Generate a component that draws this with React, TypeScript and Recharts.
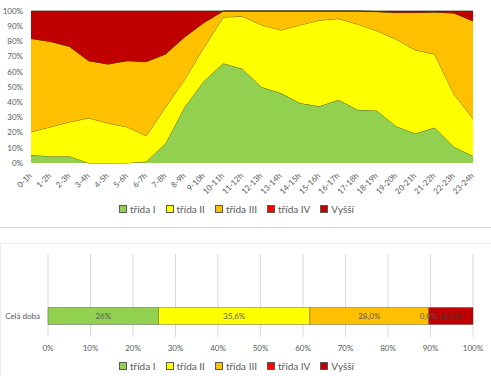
import { AreaChart, Area, BarChart, Bar, XAxis, YAxis, CartesianGrid, Legend, LabelList } from 'recharts';

const hours = [
  '0-1h', '1-2h', '2-3h', '3-4h', '4-5h', '5-6h', '6-7h', '7-8h', '8-9h', '9-10h', '10-11h', '11-12h',
  '12-13h', '13-14h', '14-15h', '15-16h', '16-17h', '17-18h', '18-19h', '19-20h', '20-21h', '21-22h', '22-23h', '23-24h',
];
const tridaI = [5.2, 4.5, 4.5, 0, 0, 0, 1, 13, 37, 54, 65.6, 62, 50, 46, 39.4, 37.3, 41.6, 35, 34.6, 24.2, 19.4, 23.3, 10.7, 4.6];
const tridaII = [15.3, 19.2, 22.5, 29.6, 26.3, 23.7, 16.8, 23.8, 18, 22, 30.4, 34.5, 40.8, 41.4, 51.4, 56.6, 53.4, 56.3, 52.3, 57.3, 54.9, 48.4, 34.8, 24.6];
const tridaIII = [61.4, 56.3, 49.7, 37.7, 38.8, 43.6, 48.9, 34.9, 28, 16.4, 4, 3.5, 9.2, 12.6, 9.2, 6.1, 5, 8.7, 12.7, 17.5, 24.7, 27.6, 53.2, 64.3];
const tridaIV = [0, 0, 0, 0, 0, 0, 0, 0, 0, 0, 0, 0, 0, 0, 0, 0, 0, 0, 0, 0, 0, 0, 0, 0];
const vyssi = [18.1, 20, 23.3, 32.7, 34.9, 32.7, 33.3, 28.3, 17, 7.6, 0, 0, 0, 0, 0, 0, 0, 0, 0.4, 1, 1, 0.7, 1.3, 6.5];

const totalCategories = ['', 'Celá doba'];
const totalI = [0, 26];
const totalII = [0, 35.6];
const totalIII = [0, 28.0];
const totalIV = [0, 0.0];
const totalVyssi = [0, 10.4];
const totalLabels = ['26%', '35,6%', '28,0%', '0,0%', '10,4%'];

const percentTicks = [0, 10, 20, 30, 40, 50, 60, 70, 80, 90, 100];

const series = [
  { key: 'i', name: 'třída I', color: '#92D050' },
  { key: 'ii', name: 'třída II', color: '#FFFF00' },
  { key: 'iii', name: 'třída III', color: '#FFC000' },
  { key: 'iv', name: 'třída IV', color: '#FF0000' },
  { key: 'v', name: 'Vyšší', color: '#C00000' },
];

const hourData = hours.map((h, i) => ({
  hour: h, i: tridaI[i], ii: tridaII[i], iii: tridaIII[i], iv: tridaIV[i], v: vyssi[i],
}));

const totalData = totalCategories.map((c, i) => {
  const row: any = { name: c, i: totalI[i], ii: totalII[i], iii: totalIII[i], iv: totalIV[i], v: totalVyssi[i] };
  series.forEach((s, si) => {
    row[`lbl_${s.key}`] = c ? totalLabels[si] : '';
  });
  return row;
});

const FONT = 'Lato, "Open Sans", sans-serif';
const GREY = '#595959';

function LegendBox() {
  return (
    <div style={{ display: 'flex', justifyContent: 'center', gap: 10, fontFamily: FONT, fontSize: 10, color: GREY, lineHeight: '20px' }}>
      {series.map((s) => (
        <span key={s.key} style={{ display: 'flex', alignItems: 'center' }}>
          <span style={{ width: 6, height: 6, background: s.color, border: '1px solid #595959', marginRight: 3 }} />
          {s.name}
        </span>
      ))}
    </div>
  );
}

function HourTick({ x, y, payload }: any) {
  return (
    <text x={x} y={y} dy={6} textAnchor="end" transform={`rotate(-45 ${x} ${y + 4})`} fontSize={8} fill={GREY} fontFamily={FONT}>
      {payload.value}
    </text>
  );
}

function CategoryTick({ x, y, payload }: any) {
  return (
    <text x={x} y={y} dy={3} textAnchor="end" fontSize={8} fill={GREY} fontFamily={FONT}>
      {payload.value}
    </text>
  );
}

export default function App() {
  return (
    <div style={{ position: 'absolute', left: 0, top: 0, width: 491, height: 376, background: '#fff' }}>
      <div style={{ position: 'absolute', left: 0, top: 0, width: 491, height: 227, borderBottom: '1px solid #d9d9d9' }}>
        <AreaChart width={491} height={228} data={hourData} margin={{ top: 11, right: 18, left: 0, bottom: 9 }}>
          <XAxis dataKey="hour" interval={0} tick={<HourTick />} axisLine={false} tickLine={false} height={36} />
          <YAxis
            domain={[0, 100]}
            ticks={percentTicks}
            tickFormatter={(v) => `${v}%`}
            width={31}
            axisLine={false}
            tickLine={false}
            tick={{ fontSize: 8, fill: GREY, fontFamily: FONT }}
          />
          {series.map((s) => (
            <Area
              key={s.key}
              type="linear"
              dataKey={s.key}
              name={s.name}
              stackId="a"
              fill={s.color}
              fillOpacity={1}
              stroke="#3a2a00"
              strokeWidth={0.7}
              isAnimationActive={false}
            />
          ))}
          <Legend verticalAlign="bottom" height={20} content={() => <LegendBox />} />
        </AreaChart>
      </div>
      <div style={{ position: 'absolute', left: 0, top: 243, width: 500, height: 140, borderTop: '1px solid #ececec', borderLeft: '1px solid #ececec' }} />
      <div style={{ position: 'absolute', left: 0, top: 243 }}>
        <BarChart width={491} height={133} data={totalData} layout="vertical" margin={{ top: 11, right: 18, left: 0, bottom: 0 }}>
          <CartesianGrid horizontal={false} stroke="#d9d9d9" />
          <XAxis
            type="number"
            domain={[0, 100]}
            ticks={percentTicks}
            tickFormatter={(v) => `${v}%`}
            axisLine={false}
            tickLine={false}
            height={19}
            tick={{ fontSize: 8, fill: GREY, fontFamily: FONT }}
          />
          <YAxis type="category" dataKey="name" width={48} axisLine={false} tickLine={false} tick={<CategoryTick />} />
          {series.map((s, si) => (
            <Bar key={s.key} dataKey={s.key} name={s.name} stackId="a" fill={s.color} stroke="#404040" strokeWidth={0.4} barSize={17} isAnimationActive={false}>
              <LabelList
                dataKey={`lbl_${s.key}`}
                position="center"
                fontSize={8}
                fontFamily={FONT}
                fill={si === 4 ? '#3a3a3a' : GREY}
                stroke="none"
              />
              {/* třída IV has zero width, so its label is anchored at the start of the Vyšší segment */}
              {si === 4 && (
                <LabelList dataKey="lbl_iv" position="insideLeft" offset={-9} fontSize={8} fontFamily={FONT} fill={GREY} stroke="none" />
              )}
            </Bar>
          ))}
          <Legend verticalAlign="bottom" height={20} content={() => <LegendBox />} />
        </BarChart>
      </div>
    </div>
  );
}
